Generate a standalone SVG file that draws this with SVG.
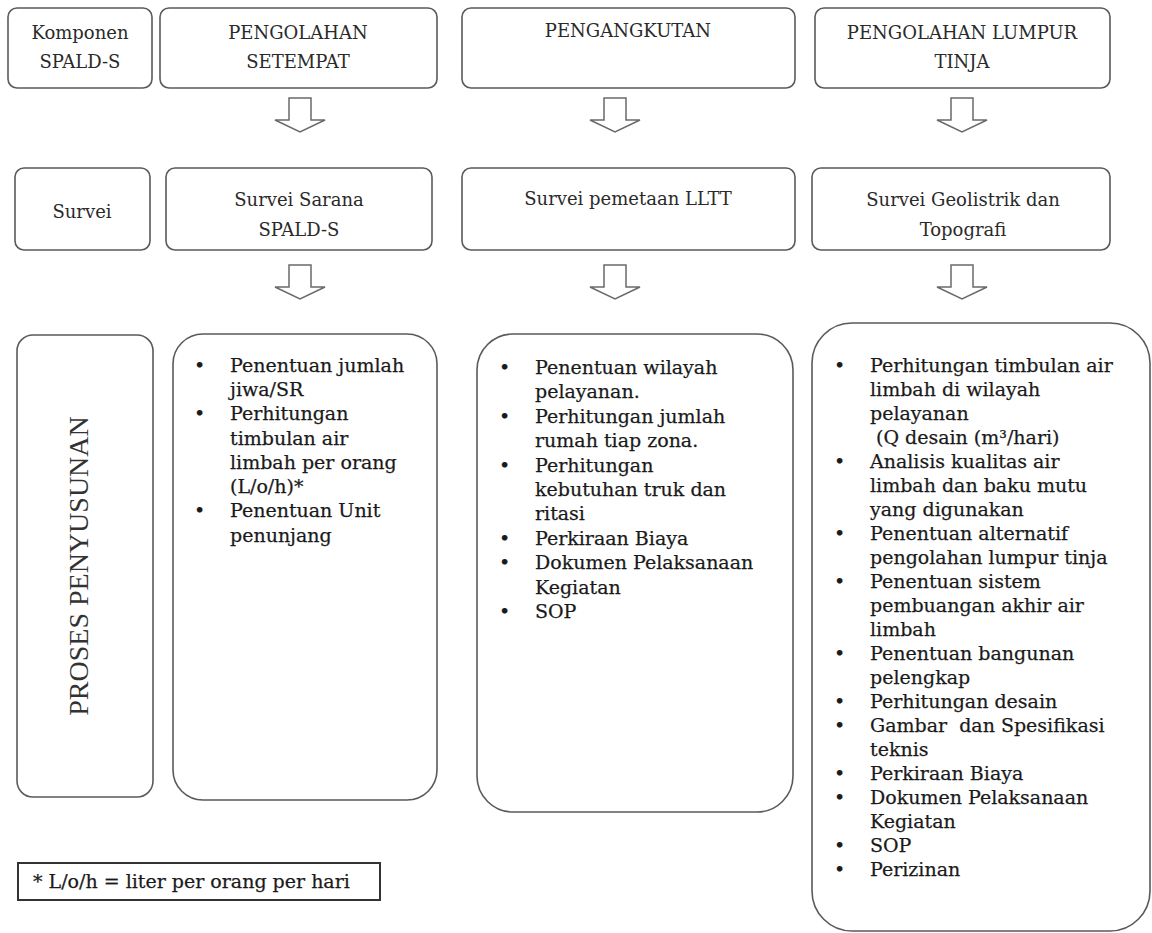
<svg xmlns="http://www.w3.org/2000/svg" width="1152" height="933" viewBox="0 0 1152 933">
<style>
.box{fill:#fff;stroke:#5a5a5a;stroke-width:1.6}
.hd{font-family:"DejaVu Serif","Liberation Serif",serif;font-size:18px;fill:#2a2a2a;text-anchor:middle}
.bd{font-family:"DejaVu Serif","Liberation Serif",serif;font-size:19px;fill:#1a1a1a;stroke:#1a1a1a;stroke-width:0.25}
.arr{fill:#fff;stroke:#6a6a6a;stroke-width:1.5;stroke-linejoin:miter}
.vt{font-family:"Liberation Serif","Times New Roman",serif;font-size:28px;fill:#333;text-anchor:middle}
</style>
<defs>
<path id="dn" class="arr" d="M-11,0 L11,0 L11,22 L25,22 L0,34 L-25,22 L-11,22 Z"/>
</defs>
<rect width="1152" height="933" fill="#fff"/>

<g id="connectors">
<use href="#dn" x="300" y="98"/>
<use href="#dn" x="615" y="98"/>
<use href="#dn" x="962" y="98"/>
<use href="#dn" x="300" y="265"/>
<use href="#dn" x="615" y="265"/>
<use href="#dn" x="962" y="265"/>
</g>

<g id="komponen">
<rect class="box" x="8" y="8" width="144" height="80" rx="9"/>
<text class="hd" x="80" y="39">Komponen</text>
<text class="hd" x="80" y="68">SPALD-S</text>
</g>
<g id="pengolahan-setempat">
<rect class="box" x="160" y="8" width="277" height="80" rx="9"/>
<text class="hd" x="298" y="39">PENGOLAHAN</text>
<text class="hd" x="298" y="68">SETEMPAT</text>
</g>
<g id="pengangkutan">
<rect class="box" x="462" y="8" width="333" height="80" rx="9"/>
<text class="hd" x="628" y="37">PENGANGKUTAN</text>
</g>
<g id="pengolahan-lumpur">
<rect class="box" x="815" y="8" width="295" height="80" rx="9"/>
<text class="hd" x="962" y="39">PENGOLAHAN LUMPUR</text>
<text class="hd" x="962" y="68">TINJA</text>
</g>

<g id="survei">
<rect class="box" x="15" y="168" width="135" height="82" rx="9"/>
<text class="hd" x="82" y="218">Survei</text>
</g>
<g id="survei-sarana">
<rect class="box" x="166" y="168" width="266" height="82" rx="9"/>
<text class="hd" x="299" y="206">Survei Sarana</text>
<text class="hd" x="299" y="236">SPALD-S</text>
</g>
<g id="survei-pemetaan">
<rect class="box" x="462" y="168" width="333" height="82" rx="9"/>
<text class="hd" x="628" y="205">Survei pemetaan LLTT</text>
</g>
<g id="survei-geolistrik">
<rect class="box" x="812" y="168" width="298" height="82" rx="9"/>
<text class="hd" x="963" y="206">Survei Geolistrik dan</text>
<text class="hd" x="963" y="236">Topografi</text>
</g>

<g id="proses-penyusunan">
<rect class="box" x="17" y="335" width="136" height="462" rx="16"/>
<text class="vt" x="88" y="566" transform="rotate(-90 88 566)">PROSES PENYUSUNAN</text>
</g>

<g id="setempat-list">
<rect class="box" x="173" y="334" width="264" height="466" rx="30"/>
<text class="bd">
<tspan x="194" y="372">•</tspan><tspan x="230" y="372">Penentuan jumlah</tspan>
<tspan x="230" y="396">jiwa/SR</tspan>
<tspan x="194" y="420">•</tspan><tspan x="230" y="420">Perhitungan</tspan>
<tspan x="230" y="445">timbulan air</tspan>
<tspan x="230" y="469">limbah per orang</tspan>
<tspan x="230" y="493">(L/o/h)*</tspan>
<tspan x="194" y="517">•</tspan><tspan x="230" y="517">Penentuan Unit</tspan>
<tspan x="230" y="542">penunjang</tspan>
</text>
</g>

<g id="pengangkutan-list">
<rect class="box" x="477" y="334" width="316" height="478" rx="36"/>
<text class="bd">
<tspan x="499" y="374">•</tspan><tspan x="535" y="374">Penentuan wilayah</tspan>
<tspan x="535" y="398">pelayanan.</tspan>
<tspan x="499" y="423">•</tspan><tspan x="535" y="423">Perhitungan jumlah</tspan>
<tspan x="535" y="447">rumah tiap zona.</tspan>
<tspan x="499" y="472">•</tspan><tspan x="535" y="472">Perhitungan</tspan>
<tspan x="535" y="496">kebutuhan truk dan</tspan>
<tspan x="535" y="520">ritasi</tspan>
<tspan x="499" y="545">•</tspan><tspan x="535" y="545">Perkiraan Biaya</tspan>
<tspan x="499" y="569">•</tspan><tspan x="535" y="569">Dokumen Pelaksanaan</tspan>
<tspan x="535" y="594">Kegiatan</tspan>
<tspan x="499" y="618">•</tspan><tspan x="535" y="618">SOP</tspan>
</text>
</g>

<g id="lumpur-list">
<rect class="box" x="812" y="323" width="338" height="608" rx="40"/>
<text class="bd" xml:space="preserve">
<tspan x="834" y="372">•</tspan><tspan x="870" y="372">Perhitungan timbulan air</tspan>
<tspan x="870" y="396">limbah di wilayah</tspan>
<tspan x="870" y="420">pelayanan</tspan>
<tspan x="876" y="444">(Q desain (m³/hari)</tspan>
<tspan x="834" y="468">•</tspan><tspan x="870" y="468">Analisis kualitas air</tspan>
<tspan x="870" y="492">limbah dan baku mutu</tspan>
<tspan x="870" y="516">yang digunakan</tspan>
<tspan x="834" y="540">•</tspan><tspan x="870" y="540">Penentuan alternatif</tspan>
<tspan x="870" y="564">pengolahan lumpur tinja</tspan>
<tspan x="834" y="588">•</tspan><tspan x="870" y="588">Penentuan sistem</tspan>
<tspan x="870" y="612">pembuangan akhir air</tspan>
<tspan x="870" y="636">limbah</tspan>
<tspan x="834" y="660">•</tspan><tspan x="870" y="660">Penentuan bangunan</tspan>
<tspan x="870" y="684">pelengkap</tspan>
<tspan x="834" y="708">•</tspan><tspan x="870" y="708">Perhitungan desain</tspan>
<tspan x="834" y="732">•</tspan><tspan x="870" y="732">Gambar  dan Spesifikasi</tspan>
<tspan x="870" y="756">teknis</tspan>
<tspan x="834" y="780">•</tspan><tspan x="870" y="780">Perkiraan Biaya</tspan>
<tspan x="834" y="804">•</tspan><tspan x="870" y="804">Dokumen Pelaksanaan</tspan>
<tspan x="870" y="828">Kegiatan</tspan>
<tspan x="834" y="852">•</tspan><tspan x="870" y="852">SOP</tspan>
<tspan x="834" y="876">•</tspan><tspan x="870" y="876">Perizinan</tspan>
</text>
</g>

<g id="footnote">
<rect x="18" y="863" width="362" height="37" fill="#fff" stroke="#333" stroke-width="2"/>
<text class="bd" x="33" y="888" font-size="18.5" stroke-width="0.15">* L/o/h = liter per orang per hari</text>
</g>
</svg>
